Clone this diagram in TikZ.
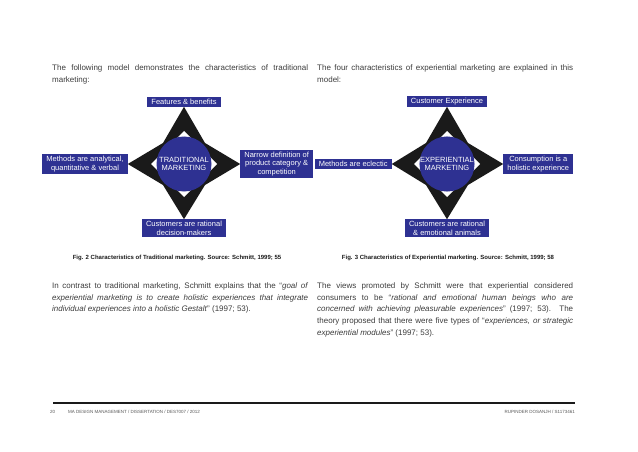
\documentclass[tikz,border=0pt]{standalone}
\usepackage{fontspec}
\setmainfont{Liberation Sans}
\usetikzlibrary{positioning, calc, backgrounds}
\definecolor{navy}    {HTML}{2E3192}
\definecolor{ink}     {HTML}{1A1A1A}
\definecolor{bodyink} {HTML}{3C3C3C}
\definecolor{inksoft} {HTML}{555555}
\tikzset{
  charbox/.style  = {fill=navy, text=white, align=center,
                     inner xsep=4pt, inner ysep=2pt,
                     font=\fontsize{7.5}{8.5}\selectfont},
  hub/.style      = {circle, fill=navy, text=white, align=center,
                     minimum size=55pt, inner sep=0pt,
                     font=\fontsize{7.5}{7.5}\selectfont},
  starfill/.style = {fill=ink},
  para/.style     = {anchor=north west, inner sep=0pt, text width=256pt,
                     align=justify, text=bodyink,
                     font=\fontsize{8}{11.7}\selectfont},
  caption/.style  = {font=\fontsize{6}{7}\selectfont\bfseries, text=ink},
  foot/.style     = {font=\fontsize{4.5}{5}\selectfont, text=inksoft, inner sep=0pt},
}
\begin{document}
\begin{tikzpicture}[x=1pt, y=-1pt]
  \useasboundingbox (0,0) rectangle (638,452);

  % intro texts
  \node[para] (introtrad) at (52,64.5)
    {The following model demonstrates the characteristics of traditional\linebreak marketing:};
  \node[para] (introexp) at (317,64.5)
    {The four characteristics of experiential marketing are explained in this\linebreak model:};

  % traditional model
  \node[hub] (trad) at (184,164) {TRADITIONAL\\MARKETING};
  \node[charbox, above=29.5pt of trad] (feat) {Features \& benefits};
  \node[charbox, left=28.5pt of trad] (meth) {Methods are analytical,\\quantitative \& verbal};
  \node[charbox, right=28.5pt of trad] (narrow) {Narrow definition of\\product category \&\\competition};
  \node[charbox, below=27.5pt of trad] (cust) {Customers are rational\\decision-makers};

  % experiential model
  \node[hub] (expr) at (447,164) {EXPERIENTIAL\\MARKETING};
  \node[charbox, above=29.5pt of expr] (custexp) {Customer Experience};
  \node[charbox, left=27.5pt of expr] (eclectic) {Methods are eclectic};
  \node[charbox, right=28.5pt of expr] (holist) {Consumption is a\\holistic experience};
  \node[charbox, below=27.5pt of expr] (emot) {Customers are rational\\\& emotional animals};

  % stars behind the hubs
  \begin{scope}[on background layer]
    \foreach \h/\n/\e/\s/\w in {trad/feat/narrow/cust/meth, expr/custexp/holist/emot/eclectic} {
      \fill[starfill] (\n.south) -- ($(\h)+(21,-21)$) -- (\e.west) -- ($(\h)+(21,21)$)
        -- (\s.north) -- ($(\h)+(-21,21)$) -- (\w.east) -- ($(\h)+(-21,-21)$) -- cycle;
      \fill[white] ($(\h)+(0,-33)$) -- ($(\h)+(33,0)$) -- ($(\h)+(0,33)$) -- ($(\h)+(-33,0)$) -- cycle;
    }
  \end{scope}

  \node[caption] (figtrad) at (177,258)
    {Fig. 2 Characteristics of Traditional marketing. Source: Schmitt, 1999; 55};
  \node[caption] (figexp) at (448,258)
    {Fig. 3 Characteristics of Experiential marketing. Source: Schmitt, 1999; 58};

  % lower texts
  \node[para] (contrast) at (52,282.5)
    {In contrast to traditional marketing, Schmitt explains that the “\textit{goal of}\linebreak
     \textit{experiential marketing is to create holistic experiences that integrate}\linebreak
     \textit{individual experiences into a holistic Gestalt}” (1997; 53).};
  \node[para] (views) at (317,282.5)
    {The views promoted by Schmitt were that experiential considered\linebreak
     consumers to be “\textit{rational and emotional human beings who are}\linebreak
     \textit{concerned with achieving pleasurable experiences}” (1997; 53). The\linebreak
     theory proposed that there were five types of “\textit{experiences, or strategic}\linebreak
     \textit{experiential modules}” (1997; 53).};

  % footer
  \coordinate (footl) at (53,403);
  \coordinate (footr) at (575,403);
  \draw[ink, line width=1.2pt] (footl) -- (footr);
  \node[foot, anchor=west] (pageno) at (50,412) {20};
  \node[foot, anchor=west] (course) at (68,412) {MA DESIGN MANAGEMENT / DISSERTATION / DES7007 / 2012};
  \node[foot, anchor=east] (student) at (575,412) {RUPINDER DOSANJH / S1173461};

\end{tikzpicture}
\end{document}
